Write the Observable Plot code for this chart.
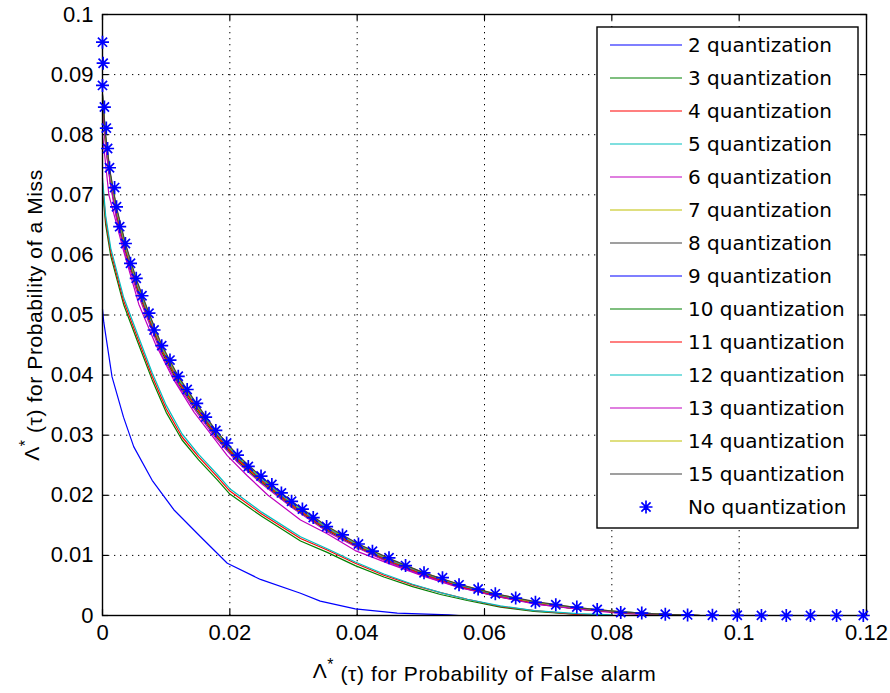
<!DOCTYPE html>
<html><head><meta charset="utf-8">
<script src="https://cdn.jsdelivr.net/npm/d3@7"></script>
<script src="https://cdn.jsdelivr.net/npm/@observablehq/plot@0.6"></script>
<style>
html,body{margin:0;padding:0;background:#fff;}
#chart{width:890px;height:693px;}
</style></head><body><div id="chart"></div>
<script>
// ---- data ----
const xTicks = [0, 0.02, 0.04, 0.06, 0.08, 0.1, 0.12];
const xTickLabels = ["0", "0.02", "0.04", "0.06", "0.08", "0.1", "0.12"];
const yTicks = [0, 0.01, 0.02, 0.03, 0.04, 0.05, 0.06, 0.07, 0.08, 0.09, 0.1];
const yTickLabels = ["0", "0.01", "0.02", "0.03", "0.04", "0.05", "0.06", "0.07", "0.08", "0.09", "0.1"];
const xLabel = "Λ* (τ) for Probability of False alarm";
const yLabel = "Λ* (τ) for Probability of a Miss";

const pfaNoQuant = [0,0.0001,0,0.0003,0.0006,0.0008,0.0011,0.0019,0.0022,0.0027,0.0036,0.0044,0.0053,0.0062,0.0073,0.0081,0.0093,0.0106,0.0119,0.0133,0.0148,0.0162,0.0178,0.0195,0.0212,0.0229,0.0249,0.0266,0.0281,0.0297,0.0314,0.0331,0.0352,0.0377,0.0402,0.0424,0.0450,0.0476,0.0505,0.0534,0.0560,0.0590,0.0617,0.0649,0.0680,0.0712,0.0745,0.0777,0.0814,0.0847,0.0884,0.0919,0.0958,0.0997,0.1035,0.1074,0.1112,0.1153,0.1195];
const pmNoQuant = [0.0954,0.0919,0.0882,0.0846,0.0811,0.0777,0.0745,0.0712,0.0680,0.0647,0.0619,0.0586,0.0561,0.0532,0.0503,0.0475,0.0449,0.0425,0.0398,0.0376,0.0353,0.0330,0.0308,0.0287,0.0267,0.0248,0.0232,0.0218,0.0204,0.0190,0.0177,0.0163,0.0148,0.0134,0.0119,0.0107,0.0096,0.0083,0.0071,0.0063,0.0051,0.0044,0.0036,0.0029,0.0022,0.0018,0.0014,0.0010,0.0005,0.0004,0.0002,0.0001,0.00005,0.00003,0.00002,0.00001,0,0,0];

const pfa2 = [0,0.0002,0.0015,0.0033,0.0049,0.0078,0.0112,0.0154,0.0196,0.0248,0.0311,0.0342,0.0397,0.0463,0.0544,0.0560];
const pm2  = [0.0510,0.0488,0.0397,0.0330,0.0281,0.0225,0.0176,0.0131,0.0087,0.0060,0.0037,0.0024,0.0011,0.0004,0.0001,0.0000];

const pfaLower = [0,0.0005,0.0013,0.0033,0.0055,0.0078,0.0100,0.0125,0.0151,0.0180,0.0200,0.0250,0.0311,0.0353,0.0397,0.0442,0.0487,0.0531,0.0573,0.0625,0.0678,0.0746,0.0800];
const pm3 = [0.0710,0.0650,0.0598,0.0518,0.0456,0.0392,0.0338,0.0292,0.0259,0.0226,0.0202,0.0165,0.0124,0.0105,0.0083,0.0064,0.0048,0.0035,0.0025,0.0014,0.0007,0.0002,0.0000];
const pm4 = [0.0720,0.0658,0.0605,0.0524,0.0462,0.0398,0.0344,0.0297,0.0264,0.0231,0.0207,0.0169,0.0128,0.0109,0.0087,0.0067,0.0051,0.0038,0.0027,0.0015,0.0008,0.0002,0.0000];
const pm5 = [0.0728,0.0665,0.0611,0.0530,0.0468,0.0404,0.0350,0.0302,0.0268,0.0235,0.0211,0.0172,0.0131,0.0111,0.0089,0.0069,0.0052,0.0038,0.0027,0.0016,0.0008,0.0003,0.0001];

const pfa6 = [0,0.0010,0.0033,0.0057,0.0083,0.0112,0.0144,0.0175,0.0196,0.0227,0.0260,0.0311,0.0353,0.0397,0.0453,0.0505,0.0562,0.0625,0.0688,0.0751,0.0810,0.0860];
const pm6  = [0.0800,0.0700,0.0607,0.0518,0.0452,0.0392,0.0338,0.0295,0.0266,0.0233,0.0200,0.0159,0.0136,0.0108,0.0085,0.0065,0.0046,0.0032,0.0018,0.0010,0.0004,0.0001];

const pfaUpper = [0,0.0005,0.0012,0.0022,0.0036,0.0053,0.0073,0.0093,0.0119,0.0148,0.0178,0.0212,0.0249,0.0297,0.0352,0.0402,0.0450,0.0505,0.0560,0.0617,0.0680,0.0745,0.0814,0.0884,0.0940];
const pm7  = [0.0855,0.0785,0.0726,0.0668,0.0608,0.0550,0.0494,0.0441,0.0389,0.0344,0.0300,0.0259,0.0224,0.0183,0.0143,0.0114,0.0090,0.0068,0.0049,0.0033,0.0020,0.0011,0.0005,0.0002,0.0000];
const pm8  = [0.0860,0.0790,0.0730,0.0672,0.0612,0.0553,0.0497,0.0444,0.0392,0.0347,0.0303,0.0262,0.0227,0.0186,0.0145,0.0116,0.0092,0.0069,0.0050,0.0034,0.0021,0.0012,0.0005,0.0002,0.0000];
const pm9  = [0.0865,0.0795,0.0735,0.0676,0.0616,0.0557,0.0500,0.0447,0.0395,0.0350,0.0306,0.0265,0.0229,0.0188,0.0147,0.0118,0.0093,0.0070,0.0051,0.0035,0.0022,0.0012,0.0006,0.0002,0.0000];
const pm10 = [0.0850,0.0782,0.0722,0.0664,0.0605,0.0547,0.0491,0.0438,0.0386,0.0341,0.0298,0.0257,0.0222,0.0181,0.0142,0.0113,0.0089,0.0067,0.0048,0.0032,0.0020,0.0011,0.0005,0.0001,0.0000];
const pm11 = [0.0858,0.0788,0.0728,0.0670,0.0610,0.0551,0.0495,0.0442,0.0390,0.0345,0.0301,0.0260,0.0225,0.0184,0.0144,0.0115,0.0091,0.0068,0.0049,0.0033,0.0021,0.0011,0.0005,0.0002,0.0000];
const pm12 = [0.0862,0.0792,0.0732,0.0674,0.0614,0.0555,0.0499,0.0446,0.0394,0.0349,0.0305,0.0264,0.0228,0.0187,0.0146,0.0117,0.0093,0.0070,0.0051,0.0035,0.0022,0.0012,0.0006,0.0002,0.0000];
const pm13 = [0.0852,0.0780,0.0720,0.0660,0.0600,0.0542,0.0487,0.0434,0.0383,0.0338,0.0295,0.0255,0.0220,0.0180,0.0140,0.0112,0.0088,0.0066,0.0047,0.0032,0.0019,0.0011,0.0005,0.0001,0.0000];
const pm14 = [0.0866,0.0796,0.0736,0.0677,0.0617,0.0558,0.0502,0.0448,0.0396,0.0351,0.0307,0.0266,0.0230,0.0189,0.0148,0.0118,0.0094,0.0071,0.0052,0.0036,0.0022,0.0013,0.0006,0.0002,0.0000];
const pm15 = [0.0868,0.0798,0.0738,0.0679,0.0619,0.0560,0.0503,0.0450,0.0398,0.0352,0.0308,0.0267,0.0231,0.0190,0.0149,0.0119,0.0095,0.0071,0.0052,0.0036,0.0023,0.0013,0.0006,0.0002,0.0000];

const seriesNames = ["2 quantization","3 quantization","4 quantization","5 quantization","6 quantization","7 quantization","8 quantization","9 quantization","10 quantization","11 quantization","12 quantization","13 quantization","14 quantization","15 quantization"];
const starName = "No quantization";
const colorOrder = ["#0000ff","#008000","#ff0000","#00bfbf","#bf00bf","#bfbf00","#404040"];

// ---- build ----
const seriesData = [
  [pfa2, pm2], [pfaLower, pm3], [pfaLower, pm4], [pfaLower, pm5], [pfa6, pm6],
  [pfaUpper, pm7], [pfaUpper, pm8], [pfaUpper, pm9], [pfaUpper, pm10], [pfaUpper, pm11],
  [pfaUpper, pm12], [pfaUpper, pm13], [pfaUpper, pm14], [pfaUpper, pm15]
];
const series = seriesData.map(([xs, ys], i) => ({
  name: seriesNames[i],
  color: colorOrder[i % colorOrder.length],
  points: xs.map((x, j) => ({x, y: ys[j]}))
}));
const stars = pfaNoQuant.map((x, j) => ({x, y: pmNoQuant[j]}));

const asterisk8 = {
  draw(ctx, size) {
    const r = Math.sqrt(size / Math.PI);
    const d = r * Math.SQRT1_2;
    ctx.moveTo(-r, 0); ctx.lineTo(r, 0);
    ctx.moveTo(0, -r); ctx.lineTo(0, r);
    ctx.moveTo(-d, -d); ctx.lineTo(d, d);
    ctx.moveTo(-d, d); ctx.lineTo(d, -d);
  }
};

const W = 890, H = 693, mT = 14, mR = 24, mB = 78, mL = 102;
const pw = W - mL - mR, ph = H - mT - mB;
const tick = 6;
const innerX = xTicks.slice(1, -1), innerY = yTicks.slice(1, -1);

const plot = Plot.plot({
  width: W, height: H,
  marginTop: mT, marginRight: mR, marginBottom: mB, marginLeft: mL,
  style: {fontFamily: "'Liberation Sans', Arial, sans-serif", background: "#fff", color: "#000"},
  x: {domain: [0, 0.12]},
  y: {domain: [0, 0.1]},
  marks: [
    Plot.ruleX(innerX, {x: d => d, stroke: "#000", strokeWidth: 1, strokeDasharray: "1.3,4.7"}),
    Plot.ruleY(innerY, {y: d => d, stroke: "#000", strokeWidth: 1, strokeDasharray: "1.3,4.7"}),
    Plot.axisX(xTicks, {tickSize: 0, tickPadding: 9, fontSize: 22, tickFormat: (d, i) => xTickLabels[i], label: null}),
    Plot.axisY(yTicks, {tickSize: 0, tickPadding: 9, fontSize: 22, tickFormat: (d, i) => yTickLabels[i], label: null}),
    Plot.ruleX(xTicks, {x: d => d, insetTop: ph - tick, stroke: "#000", strokeWidth: 1.2}),
    Plot.ruleX(xTicks, {x: d => d, insetBottom: ph - tick, stroke: "#000", strokeWidth: 1.2}),
    Plot.ruleY(yTicks, {y: d => d, insetRight: pw - tick, stroke: "#000", strokeWidth: 1.2}),
    Plot.ruleY(yTicks, {y: d => d, insetLeft: pw - tick, stroke: "#000", strokeWidth: 1.2}),
    ...series.map(s => Plot.line(s.points, {x: "x", y: "y", stroke: s.color, strokeWidth: 1.2})),
    Plot.frame({stroke: "#000", strokeWidth: 1.4}),
    Plot.dot(stars, {x: "x", y: "y", symbol: asterisk8, r: 6.5, stroke: "#0000ff", fill: "none", strokeWidth: 1.7}),
    Plot.text([xLabel], {text: d => d, frameAnchor: "bottom", dy: 56, fontSize: 21, lineAnchor: "middle", textAnchor: "middle"}),
    Plot.text([yLabel], {text: d => d, frameAnchor: "left", dx: -70, rotate: -90, fontSize: 21, lineAnchor: "middle", textAnchor: "middle"})
  ]
});
document.getElementById("chart").appendChild(plot);

const svg = d3.select(plot);

// superscript asterisk in axis labels
svg.selectAll("text").each(function() {
  const t = this.textContent;
  if (t === xLabel || t === yLabel) {
    const el = d3.select(this);
    el.selectAll("*").remove();
    el.text(null);
    el.attr("letter-spacing", "0.6").attr("text-anchor", "middle");
    el.append("tspan").text("Λ");
    el.append("tspan").attr("dy", "-0.55em").attr("font-size", "0.75em").text("*");
    el.append("tspan").attr("dy", "0.55em").text(t.slice(2));
  }
});

// legend
const lg = svg.append("g").attr("font-family", "'DejaVu Sans', sans-serif").attr("font-size", 20).attr("text-anchor", "start");
const lx = 597, ly = 27, lw = 261, lh = 501, step = 33, y0 = 45;
lg.append("rect").attr("x", lx).attr("y", ly).attr("width", lw).attr("height", lh)
  .attr("fill", "#fff").attr("stroke", "#000").attr("stroke-width", 1.4);
series.forEach((s, i) => {
  const yy = y0 + i * step;
  lg.append("line").attr("x1", 610).attr("x2", 682).attr("y1", yy).attr("y2", yy)
    .attr("stroke", s.color).attr("stroke-width", 1.2);
  lg.append("text").attr("x", 688).attr("y", yy).attr("dy", "0.36em").attr("text-anchor", "start").attr("fill", "#000").text(s.name);
});
{
  const yy = y0 + series.length * step;
  const r = 6.5, d = r * Math.SQRT1_2;
  lg.append("path").attr("transform", `translate(646,${yy})`)
    .attr("d", `M${-r},0L${r},0M0,${-r}L0,${r}M${-d},${-d}L${d},${d}M${-d},${d}L${d},${-d}`)
    .attr("stroke", "#0000ff").attr("stroke-width", 1.7).attr("fill", "none");
  lg.append("text").attr("x", 688).attr("y", yy).attr("dy", "0.36em").attr("text-anchor", "start").attr("fill", "#000").text(starName);
}
</script></body></html>
